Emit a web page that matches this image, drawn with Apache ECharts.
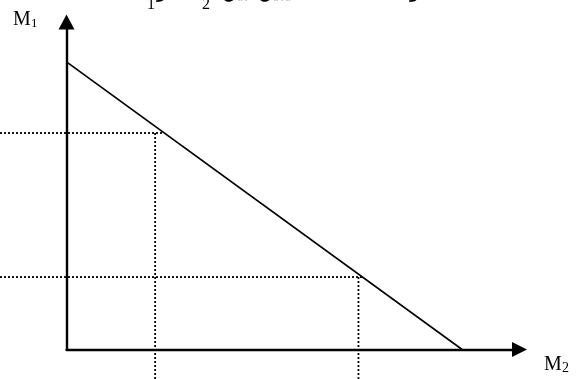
<!DOCTYPE html>
<html>
<head>
<meta charset="utf-8">
<script src="https://cdn.jsdelivr.net/npm/echarts@6/dist/echarts.min.js"></script>
<style>
  html, body { margin: 0; padding: 0; background: #fff; }
  #chart { width: 587px; height: 379px; }
</style>
</head>
<body>
<div id="chart"></div>
<script>
// Budget line: M2 on the horizontal axis, M1 on the vertical axis
const lineM2 = [0, 10];
const lineM1 = [10, 0];

// Two read-off points on the line (dotted guides to both axes)
const pointM2 = [2.47, 7.48];
const pointM1 = [7.53, 2.52];
// where the vertical guides are drawn
const guideM2 = [2.24, 7.38];

// Visible axis ranges (value units)
const m2Range = [0, 11.45];
const m1Range = [0, 11.39];
// the plotting area for the marks runs a little past the axes
const m2Left = -1.681;
const m1Below = -1.026;

// Fragments of the caption line above the figure (cut off by the top edge)
const captionParts = [
  { text: 'M', x: 128, kind: 'latin' },
  { text: '1', x: 147, kind: 'sub' },
  { text: 'و', x: 157, kind: 'ar' },
  { text: 'M', x: 182, kind: 'latin' },
  { text: '2', x: 202, kind: 'sub' },
  { text: 'بين', x: 222, kind: 'ar' },
  { text: 'يبين', x: 258, kind: 'ar' },
  { text: 'المنحنى', x: 293, kind: 'ar' },
  { text: '(٢)', x: 368, kind: 'ar' },
  { text: 'و', x: 410, kind: 'ar' }
];

const dotted = { color: '#000', width: 1.8, type: [2, 2] };

function plain(data, style) {
  return {
    type: 'line',
    xAxisIndex: 1,
    yAxisIndex: 1,
    data: data,
    symbol: 'none',
    lineStyle: style,
    silent: true
  };
}

const series = [
  plain([[lineM2[0], lineM1[0]], [lineM2[1], lineM1[1]]], { color: '#000', width: 1.6 })
];
for (let i = 0; i < pointM2.length; i++) {
  series.push(plain([[m2Left, pointM1[i]], [pointM2[i], pointM1[i]]], dotted));
  series.push(plain([[guideM2[i], pointM1[i]], [guideM2[i], m1Below]], dotted));
}

const fonts = {
  latin: { font: '20px "Liberation Serif"', top: -21 },
  sub: { font: '16px "Liberation Serif"', top: -3 },
  ar: { font: '20px "DejaVu Sans"', top: -18 }
};

const graphics = [
  { type: 'text', left: 13, top: 10, style: { text: 'M', font: '20px "Liberation Serif"', fill: '#000' } },
  { type: 'text', left: 31, top: 17, style: { text: '1', font: '13px "Liberation Serif"', fill: '#000' } },
  { type: 'text', left: 544, top: 355, style: { text: 'M', font: '20px "Liberation Serif"', fill: '#000' } },
  { type: 'text', left: 562, top: 361, style: { text: '2', font: '14px "Liberation Serif"', fill: '#000' } }
];
captionParts.forEach(function (p) {
  graphics.push({
    type: 'text',
    left: p.x,
    top: fonts[p.kind].top,
    style: { text: p.text, font: fonts[p.kind].font, fill: '#000' }
  });
});

const hiddenAxis = {
  type: 'value',
  show: false,
  splitLine: { show: false }
};

const chart = echarts.init(document.getElementById('chart'), null, { renderer: 'canvas' });
chart.setOption({
  animation: false,
  backgroundColor: '#fff',
  grid: [
    // axes
    { left: 66.5, top: 22, right: 67.5, bottom: 29.5 },
    // marks, same scale but extended to the window's left and bottom edges
    { left: 0, top: 22, right: 67.5, bottom: 0 }
  ],
  xAxis: [
    {
      type: 'value',
      gridIndex: 0,
      min: m2Range[0],
      max: m2Range[1],
      axisLine: {
        onZero: false,
        lineStyle: { color: '#000', width: 2.4 },
        symbol: ['none', 'triangle'],
        symbolSize: [15, 15]
      },
      axisTick: { show: false },
      axisLabel: { show: false },
      splitLine: { show: false }
    },
    Object.assign({ gridIndex: 1, min: m2Left, max: m2Range[1] }, hiddenAxis)
  ],
  yAxis: [
    {
      type: 'value',
      gridIndex: 0,
      min: m1Range[0],
      max: m1Range[1],
      axisLine: {
        show: true,
        onZero: false,
        lineStyle: { color: '#000', width: 2.4 },
        symbol: ['none', 'triangle'],
        symbolSize: [16, 15]
      },
      axisTick: { show: false },
      axisLabel: { show: false },
      splitLine: { show: false }
    },
    Object.assign({ gridIndex: 1, min: m1Below, max: m1Range[1] }, hiddenAxis)
  ],
  graphic: graphics,
  series: series
});
</script>
</body>
</html>
